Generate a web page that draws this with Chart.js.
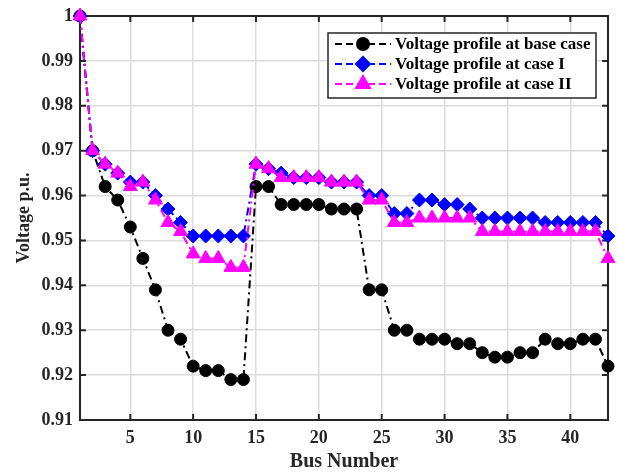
<!DOCTYPE html>
<html>
<head>
<meta charset="utf-8">
<script src="https://cdn.jsdelivr.net/npm/chart.js@4.4.0/dist/chart.umd.min.js"></script>
<style>
  html, body { margin: 0; padding: 0; background: #fff; }
  #wrap { width: 617px; height: 474px; }
</style>
</head>
<body>
<div id="wrap"><canvas id="chart" width="617" height="474"></canvas></div>
<script>
// Bus voltage profiles (p.u.)
const busNumbers = [1, 2, 3, 4, 5, 6, 7, 8, 9, 10, 11, 12, 13, 14, 15, 16, 17, 18, 19, 20, 21, 22,
  23, 24, 25, 26, 27, 28, 29, 30, 31, 32, 33, 34, 35, 36, 37, 38, 39, 40, 41, 42, 43];

const baseCase = [1.000, 0.970, 0.962, 0.959, 0.953, 0.946, 0.939, 0.930, 0.928, 0.922, 0.921,
  0.921, 0.919, 0.919, 0.962, 0.962, 0.958, 0.958, 0.958, 0.958, 0.957, 0.957, 0.957, 0.939,
  0.939, 0.930, 0.930, 0.928, 0.928, 0.928, 0.927, 0.927, 0.925, 0.924, 0.924, 0.925, 0.925,
  0.928, 0.927, 0.927, 0.928, 0.928, 0.922];

const caseI = [1.000, 0.970, 0.967, 0.965, 0.963, 0.963, 0.960, 0.957, 0.954, 0.951, 0.951,
  0.951, 0.951, 0.951, 0.967, 0.966, 0.965, 0.964, 0.964, 0.964, 0.963, 0.963, 0.963, 0.960,
  0.960, 0.956, 0.956, 0.959, 0.959, 0.958, 0.958, 0.957, 0.955, 0.955, 0.955, 0.955, 0.955,
  0.954, 0.954, 0.954, 0.954, 0.954, 0.951];

const caseII = [1.000, 0.970, 0.967, 0.965, 0.962, 0.963, 0.959, 0.954, 0.952, 0.947, 0.946,
  0.946, 0.944, 0.944, 0.967, 0.966, 0.964, 0.964, 0.964, 0.964, 0.963, 0.963, 0.963, 0.959,
  0.959, 0.954, 0.954, 0.955, 0.955, 0.955, 0.955, 0.955, 0.952, 0.952, 0.952, 0.952, 0.952,
  0.952, 0.952, 0.952, 0.952, 0.952, 0.946];

const seriesNames = ["Voltage profile at base case", "Voltage profile at case I", "Voltage profile at case II"];

// Axis ticks
const xTicks = [5, 10, 15, 20, 25, 30, 35, 40];
const yTicks = [0.91, 0.92, 0.93, 0.94, 0.95, 0.96, 0.97, 0.98, 0.99, 1];

const FONT = "'Liberation Serif', 'Times New Roman', serif";
const AXIS_COLOR = "#262626";
const DASH = [8, 4, 2, 4];

function toPoints(values) {
  return values.map((v, i) => ({ x: busNumbers[i], y: v }));
}

// Box around the axes and inside tick marks (MATLAB style)
const axesBox = {
  id: "axesBox",
  beforeDatasetsDraw(chart) {
    const { ctx, chartArea: a, scales } = chart;
    const len = 6;
    ctx.save();
    ctx.strokeStyle = AXIS_COLOR;
    ctx.lineWidth = 2;
    ctx.setLineDash([]);
    ctx.beginPath();
    xTicks.forEach((t) => {
      const px = scales.x.getPixelForValue(t);
      ctx.moveTo(px, a.bottom);
      ctx.lineTo(px, a.bottom - len);
      ctx.moveTo(px, a.top);
      ctx.lineTo(px, a.top + len);
    });
    yTicks.forEach((t) => {
      const py = scales.y.getPixelForValue(t);
      ctx.moveTo(a.left, py);
      ctx.lineTo(a.left + len, py);
      ctx.moveTo(a.right, py);
      ctx.lineTo(a.right - len, py);
    });
    ctx.stroke();
    ctx.strokeRect(a.left, a.top, a.right - a.left, a.bottom - a.top);
    ctx.restore();
  },
};

// Legend with dashed line + marker samples
const boxLegend = {
  id: "boxLegend",
  afterDraw(chart) {
    const { ctx } = chart;
    const x0 = 328, y0 = 33, w = 268, h = 65;
    ctx.save();
    ctx.fillStyle = "#fff";
    ctx.fillRect(x0, y0, w, h);
    ctx.strokeStyle = AXIS_COLOR;
    ctx.lineWidth = 1.5;
    ctx.setLineDash([]);
    ctx.strokeRect(x0, y0, w, h);

    chart.data.datasets.forEach((ds, i) => {
      const cy = y0 + 11 + i * 20;
      ctx.strokeStyle = ds.borderColor;
      ctx.lineWidth = 2;
      ctx.setLineDash([7, 4]);
      ctx.beginPath();
      ctx.moveTo(335, cy);
      ctx.lineTo(391, cy);
      ctx.stroke();
      ctx.setLineDash([]);
      Chart.helpers.drawPoint(ctx, {
        pointStyle: ds.pointStyle,
        radius: ds.pointRadius,
        borderWidth: 1,
      }, 363, cy);
      ctx.fillStyle = ds.pointBackgroundColor;
      ctx.fill();
      ctx.fillStyle = "#000";
      ctx.font = "bold 17px " + FONT;
      ctx.textBaseline = "middle";
      ctx.textAlign = "left";
      ctx.fillText(seriesNames[i], 395, cy + 1);
    });
    ctx.restore();
  },
};

function lineSet(label, values, color, style, radius, order) {
  return {
    label: label,
    data: toPoints(values),
    borderColor: color,
    backgroundColor: color,
    pointBackgroundColor: color,
    pointBorderColor: color,
    pointStyle: style,
    pointRadius: radius,
    pointBorderWidth: 1,
    borderWidth: 2,
    borderDash: DASH,
    tension: 0,
    clip: false,
    order: order,
  };
}

new Chart(document.getElementById("chart"), {
  type: "line",
  data: {
    datasets: [
      lineSet(seriesNames[0], baseCase, "#000000", "circle", 6, 3),
      lineSet(seriesNames[1], caseI, "#0000ff", "rectRot", 7, 2),
      lineSet(seriesNames[2], caseII, "#ff00ff", "triangle", 8, 1),
    ],
  },
  options: {
    responsive: false,
    animation: false,
    layout: { padding: { top: 16, right: 6, left: 0, bottom: 0 } },
    plugins: {
      legend: { display: false },
      tooltip: { enabled: false },
    },
    scales: {
      x: {
        type: "linear",
        min: 1,
        max: 43,
        afterBuildTicks: (scale) => {
          scale.ticks = xTicks.map((v) => ({ value: v }));
        },
        afterFit: (scale) => {
          scale.height = 54;
          scale.paddingLeft = 0;
          scale.paddingRight = 0;
        },
        grid: { color: "#dcdcdc", lineWidth: 1.5, drawTicks: false },
        border: { display: false },
        ticks: {
          color: AXIS_COLOR,
          padding: 8,
          maxRotation: 0,
          font: { family: FONT, size: 18, weight: "bold" },
        },
        title: {
          display: true,
          text: "Bus Number",
          color: AXIS_COLOR,
          padding: { top: 0, bottom: 0 },
          font: { family: FONT, size: 20, weight: "bold" },
        },
      },
      y: {
        type: "linear",
        min: 0.91,
        max: 1,
        afterBuildTicks: (scale) => {
          scale.ticks = yTicks.map((v) => ({ value: v }));
        },
        afterFit: (scale) => {
          scale.width = 80;
          scale.paddingTop = 0;
          scale.paddingBottom = 0;
        },
        grid: { color: "#dcdcdc", lineWidth: 1.5, drawTicks: false },
        border: { display: false },
        ticks: {
          color: AXIS_COLOR,
          padding: 7,
          font: { family: FONT, size: 18, weight: "bold" },
          callback: (v) => String(Number(v.toFixed(2))),
        },
        title: {
          display: true,
          text: "Voltage p.u.",
          color: AXIS_COLOR,
          padding: { top: 14, bottom: 0 },
          font: { family: FONT, size: 18, weight: "bold" },
        },
      },
    },
  },
  plugins: [axesBox, boxLegend],
});
</script>
</body>
</html>
